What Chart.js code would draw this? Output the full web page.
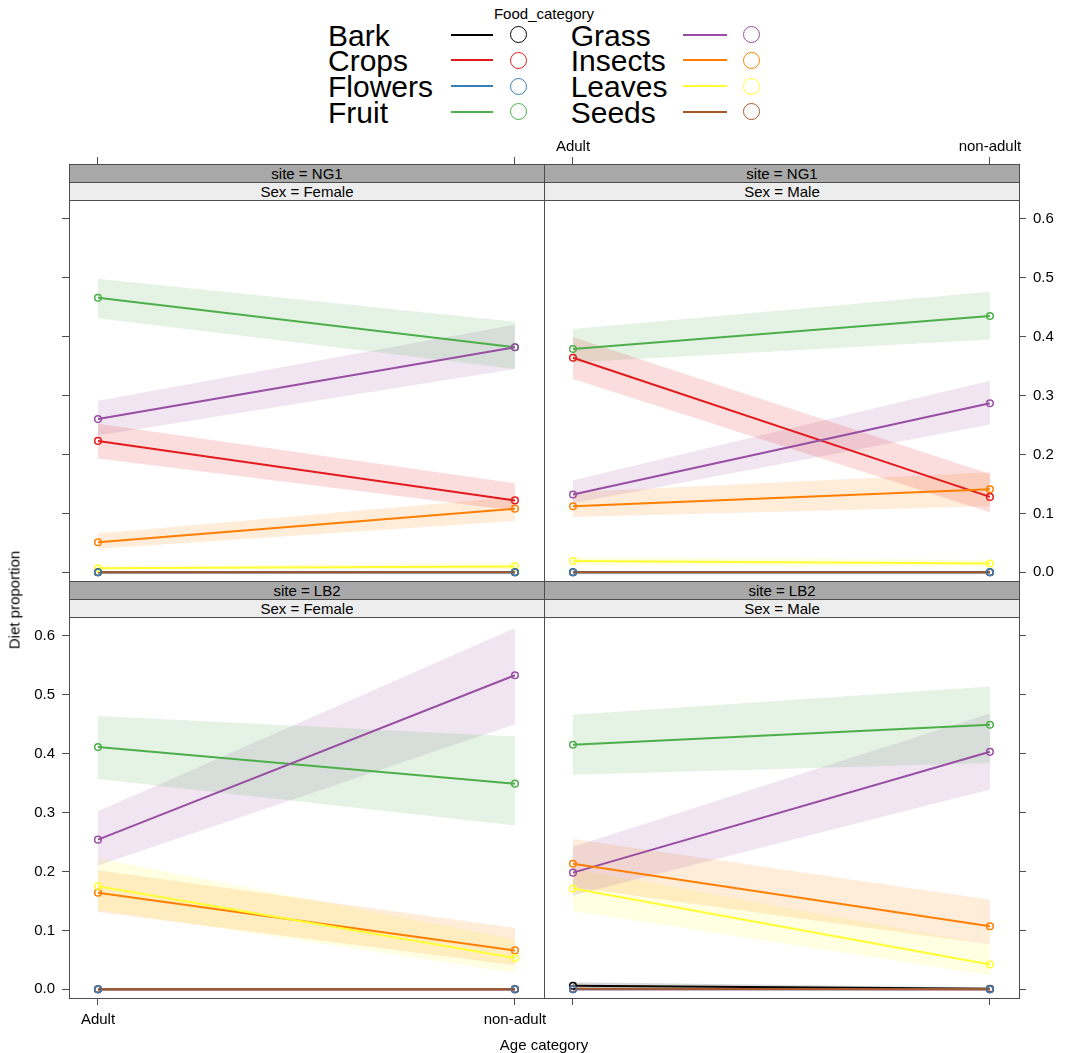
<!DOCTYPE html>
<html>
<head>
<meta charset="utf-8">
<script src="https://cdn.jsdelivr.net/npm/chart.js@4.4.1/dist/chart.umd.min.js"></script>
<style>
  body { margin: 0; background: #fff; font-family: "Liberation Sans", Arial, sans-serif; color: #000; }
  #fig { position: relative; width: 1066px; height: 1053px; overflow: hidden; }
  canvas { position: absolute; }
  .lbl { position: absolute; white-space: nowrap; line-height: 1; transform: translate(-50%, -50%); font-size: 15px; }
  .strip { position: absolute; box-sizing: border-box; border: 1px solid #4d4d4d; text-align: center;
           font-size: 15px; line-height: 17px; z-index: 5; white-space: nowrap; }
  .key { position: absolute; font-size: 30px; line-height: 30px; white-space: nowrap; }
  .keyline { position: absolute; height: 2px; }
  .keydot { position: absolute; box-sizing: border-box; width: 17px; height: 17px; border-radius: 50%; border: 1.5px solid; }
</style>
</head>
<body>
<div id="fig"></div>
<script>
// categories / tick labels
const ageLabels = ['Adult', 'non-adult'];
const ageX = [1, 2];
const foodCategories = ['Bark', 'Crops', 'Flowers', 'Fruit', 'Grass', 'Insects', 'Leaves', 'Seeds'];
const foodColors = ['#000000', '#E41A1C', '#377EB8', '#4DAF4A', '#984EA3', '#FF7F00', '#FFFF33', '#A65628'];
const yTicks = [0, 0.1, 0.2, 0.3, 0.4, 0.5, 0.6];

// site = NG1, Sex = Female  ([Adult, non-adult] per food category)
const ng1FemaleFit   = [[0, 0], [0.223, 0.122], [0, 0], [0.466, 0.382], [0.260, 0.382], [0.051, 0.108], [0.007, 0.010], [0, 0]];
const ng1FemaleLower = [[0, 0], [0.193, 0.105], [0, 0], [0.431, 0.345], [0.232, 0.345], [0.040, 0.087], [0.004, 0.006], [0, 0]];
const ng1FemaleUpper = [[0.001, 0.001], [0.252, 0.151], [0.001, 0.001], [0.498, 0.425], [0.291, 0.420], [0.066, 0.128], [0.011, 0.016], [0.001, 0.001]];

// site = NG1, Sex = Male
const ng1MaleFit   = [[0, 0], [0.364, 0.128], [0, 0], [0.379, 0.435], [0.132, 0.287], [0.112, 0.141], [0.019, 0.015], [0, 0]];
const ng1MaleLower = [[0, 0], [0.328, 0.102], [0, 0], [0.356, 0.395], [0.117, 0.251], [0.094, 0.112], [0.013, 0.010], [0, 0]];
const ng1MaleUpper = [[0.001, 0.001], [0.399, 0.167], [0.001, 0.001], [0.413, 0.476], [0.156, 0.325], [0.136, 0.170], [0.026, 0.021], [0.001, 0.001]];

// site = LB2, Sex = Female
const lb2FemaleFit   = [[0, 0], [0, 0], [0, 0], [0.411, 0.349], [0.254, 0.533], [0.164, 0.066], [0.175, 0.053], [0, 0]];
const lb2FemaleLower = [[0, 0], [0, 0], [0, 0], [0.357, 0.278], [0.210, 0.450], [0.131, 0.041], [0.135, 0.028], [0, 0]];
const lb2FemaleUpper = [[0.001, 0.001], [0.001, 0.001], [0.001, 0.001], [0.464, 0.429], [0.302, 0.613], [0.202, 0.104], [0.222, 0.085], [0.002, 0.002]];

// site = LB2, Sex = Male
const lb2MaleFit   = [[0.006, 0.001], [0, 0], [0, 0], [0.415, 0.449], [0.198, 0.403], [0.213, 0.107], [0.171, 0.042], [0.001, 0]];
const lb2MaleLower = [[0.002, 0], [0, 0], [0, 0], [0.364, 0.384], [0.159, 0.339], [0.173, 0.076], [0.133, 0.024], [0, 0]];
const lb2MaleUpper = [[0.012, 0.003], [0.001, 0.001], [0.001, 0.001], [0.466, 0.514], [0.242, 0.468], [0.255, 0.152], [0.205, 0.075], [0.003, 0.002]];

// layout
const colLeft = [69, 544], colWidth = 475;
const rowTop = [164, 581], rowHeight = 417;
const padL = 65, padR = 60, padT = 30, padB = 40;
const xMin = 0.9305, xMax = 2.0697;
const yMin = -0.01476, yMax = 0.6929;
const lineCol = '#4d4d4d';
const tickFont = { family: '"Liberation Sans", Arial, sans-serif', size: 15 };

const panels = [
  { col: 0, row: 0, site: 'NG1', sex: 'Female', fit: ng1FemaleFit, lower: ng1FemaleLower, upper: ng1FemaleUpper,
    top: [true, false], bottom: [false, false], left: [true, false], right: [false, false] },
  { col: 1, row: 0, site: 'NG1', sex: 'Male', fit: ng1MaleFit, lower: ng1MaleLower, upper: ng1MaleUpper,
    top: [true, true], bottom: [false, false], left: [false, false], right: [true, true] },
  { col: 0, row: 1, site: 'LB2', sex: 'Female', fit: lb2FemaleFit, lower: lb2FemaleLower, upper: lb2FemaleUpper,
    top: [false, false], bottom: [true, true], left: [true, true], right: [false, false] },
  { col: 1, row: 1, site: 'LB2', sex: 'Male', fit: lb2MaleFit, lower: lb2MaleLower, upper: lb2MaleUpper,
    top: [false, false], bottom: [true, false], left: [false, false], right: [true, false] },
];

const fig = document.getElementById('fig');

function alpha(hex, a) {
  const n = parseInt(hex.slice(1), 16);
  return `rgba(${n >> 16},${(n >> 8) & 255},${n & 255},${a})`;
}

function pts(vals) {
  return vals.map((v, j) => ({ x: ageX[j], y: v }));
}

function axis(position, min, max, ticks, labels, show, fit) {
  const pad = { top: 1, bottom: 6, left: 7, right: 7 }[position];
  return {
    type: 'linear', position, min, max,
    afterBuildTicks: s => { s.ticks = ticks.map(v => ({ value: v })); },
    afterFit: fit,
    grid: { display: true, drawOnChartArea: false, drawTicks: show[0], tickLength: 7, color: lineCol, tickColor: lineCol },
    border: { display: true, color: lineCol, width: 1 },
    ticks: {
      display: show[1], font: tickFont, color: '#000', autoSkip: false, maxRotation: 0,
      padding: pad,
      callback: labels,
    },
  };
}

function addDiv(cls, text, css) {
  const d = document.createElement('div');
  d.className = cls;
  if (text) d.textContent = text;
  Object.assign(d.style, css);
  fig.appendChild(d);
  return d;
}

panels.forEach(p => {
  const canvas = document.createElement('canvas');
  canvas.width = colWidth + padL + padR;
  canvas.height = rowHeight + padT + padB;
  canvas.style.left = (colLeft[p.col] - padL) + 'px';
  canvas.style.top = (rowTop[p.row] - padT) + 'px';
  fig.appendChild(canvas);

  const datasets = [];
  foodCategories.forEach((name, i) => {
    datasets.push({ label: name + ' upper', data: pts(p.upper[i]), borderColor: 'rgba(0,0,0,0)', borderWidth: 0,
      pointRadius: 0, backgroundColor: alpha(foodColors[i], 0.15), fill: '+1', order: 100 });
    datasets.push({ label: name + ' lower', data: pts(p.lower[i]), borderColor: 'rgba(0,0,0,0)', borderWidth: 0,
      pointRadius: 0, fill: false, order: 100 });
  });
  foodCategories.forEach((name, i) => {
    datasets.push({ label: name, data: pts(p.fit[i]), borderColor: foodColors[i], borderWidth: 2,
      pointRadius: 0, fill: false, order: 50 - i });
  });
  foodCategories.forEach((name, i) => {
    datasets.push({ label: name + ' points', data: pts(p.fit[i]), showLine: false, fill: false,
      pointStyle: 'circle', pointRadius: 3.3, pointBorderWidth: 1.5, pointBorderColor: foodColors[i],
      pointBackgroundColor: 'rgba(0,0,0,0)', order: name === 'Flowers' ? 0 : 20 - i });
  });

  const xLab = v => ageLabels[ageX.indexOf(v)];
  const yLab = v => v.toFixed(1);

  new Chart(canvas, {
    type: 'line',
    data: { datasets },
    options: {
      responsive: false, animation: false, devicePixelRatio: 1,
      layout: { padding: 0 },
      plugins: { legend: { display: false }, tooltip: { enabled: false } },
      elements: { line: { tension: 0 } },
      scales: {
        x: axis('bottom', xMin, xMax, ageX, xLab, p.bottom, s => { s.height = padB; }),
        x2: axis('top', xMin, xMax, ageX, xLab, p.top, s => { s.height = padT; }),
        y: axis('left', yMin, yMax, yTicks, yLab, p.left, s => { s.width = padL; }),
        y2: axis('right', yMin, yMax, yTicks, yLab, p.right, s => { s.width = padR; }),
      },
    },
  });

  // strips
  addDiv('strip', 'site = ' + p.site, { left: colLeft[p.col] + 'px', top: rowTop[p.row] + 'px',
    width: (colWidth + 1) + 'px', height: '19px', background: '#A8A8A8' });
  addDiv('strip', 'Sex = ' + p.sex, { left: colLeft[p.col] + 'px', top: (rowTop[p.row] + 18) + 'px',
    width: (colWidth + 1) + 'px', height: '19px', background: '#EDEDED' });
});

// axis titles
addDiv('lbl', 'Age category', { left: '544px', top: '1044px' });
addDiv('lbl', 'Diet proportion', { left: '14px', top: '600px', transform: 'translate(-50%,-50%) rotate(-90deg)' });

// key
addDiv('lbl', 'Food_category', { left: '544px', top: '12.5px' });
const keyText = [328, 570.7], keyLine = [[451, 493], [683, 727]], keyDot = [518.3, 751.7];
foodCategories.forEach((name, i) => {
  const c = Math.floor(i / 4), r = i % 4;
  const cy = 34.7 + r * 25.7;
  addDiv('key', name, { left: keyText[c] + 'px', top: (cy - 14) + 'px' });
  addDiv('keyline', '', { left: keyLine[c][0] + 'px', width: (keyLine[c][1] - keyLine[c][0]) + 'px',
    top: (cy - 1) + 'px', background: foodColors[i] });
  addDiv('keydot', '', { left: (keyDot[c] - 8.5) + 'px', top: (cy - 8.5) + 'px', borderColor: foodColors[i] });
});
</script>
</body>
</html>
